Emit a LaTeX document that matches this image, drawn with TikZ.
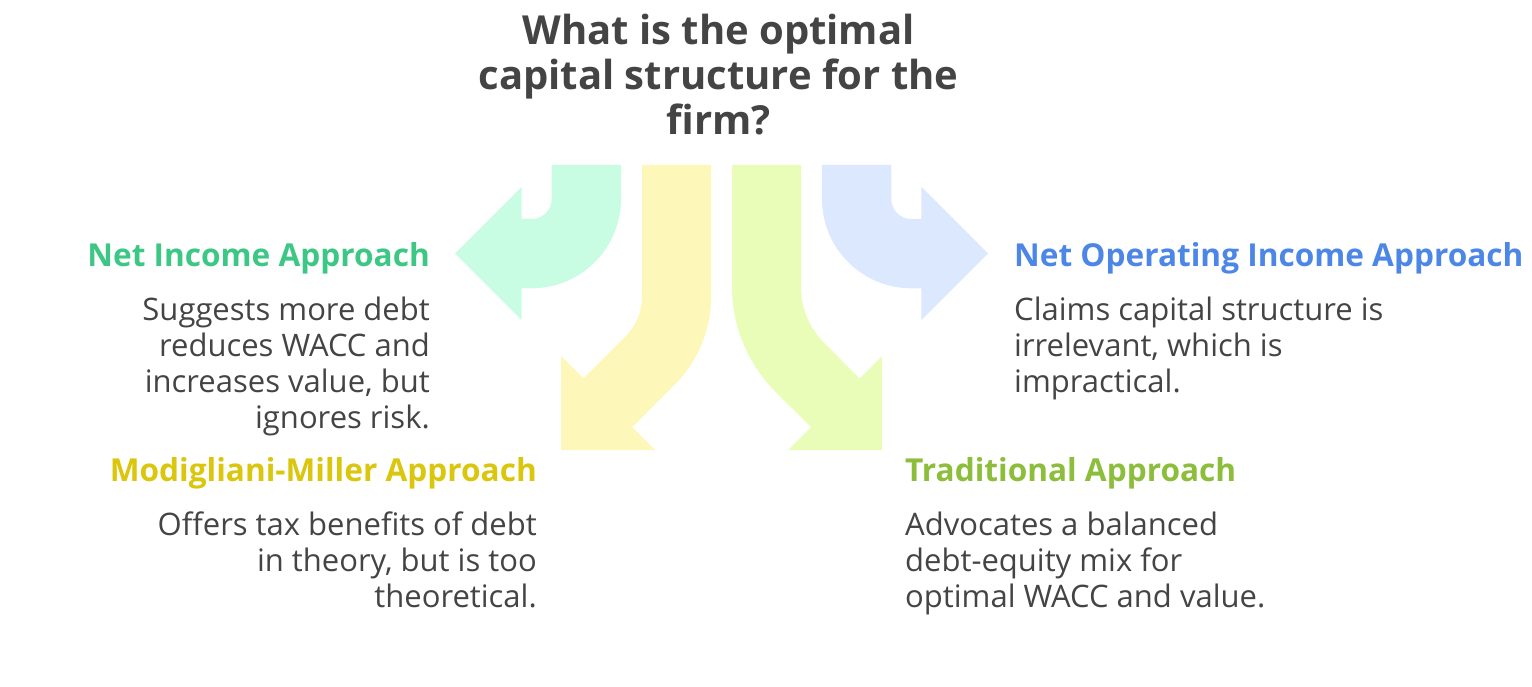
\documentclass[tikz,border=0pt]{standalone}
\usepackage{fontspec}
\setmainfont{Open Sans}
\usetikzlibrary{positioning}

\definecolor{niFill}{HTML}{C8FCE3}
\definecolor{mmFill}{HTML}{FEF7BA}
\definecolor{trFill}{HTML}{EAFDB8}
\definecolor{noiFill}{HTML}{DCE8FD}
\definecolor{niText}{HTML}{3CC884}
\definecolor{mmText}{HTML}{DAC60D}
\definecolor{trText}{HTML}{8CBD3B}
\definecolor{noiText}{HTML}{4C86E6}
\definecolor{txtGray}{HTML}{444444}

\tikzset{
	title/.style={font=\fontsize{40}{45}\selectfont\bfseries, text=txtGray, align=center, inner sep=0pt},
	head/.style={font=\fontsize{31.6}{36}\selectfont\bfseries, inner sep=0pt},
	body/.style={font=\fontsize{31}{36}\selectfont, text=txtGray, inner sep=0pt},
}

\begin{document}
\begin{tikzpicture}[x=1pt,y=-1pt]
	\useasboundingbox (0,0) rectangle (1532,687);
	% arrows
	\fill[niFill] (551.7,165) -- (551.7,199) arc[start angle=0,end angle=90,radius=20] -- (521.7,219) -- (521.7,186.8) -- (455,253.5) -- (521.7,320.2) -- (521.7,288.3) -- (531.7,288.3) arc[start angle=90,end angle=0,radius=89.3] -- (621,165) -- cycle;
	\fill[mmFill] (642,165) -- (642,297) arc[start angle=0,end angle=45,radius=55] -- (583.4,378.4) -- (561,356) -- (561,450) -- (655,450) -- (632.2,427.2) -- (674.7,384.7) arc[start angle=45,end angle=0,radius=124] -- (711,165) -- cycle;
	\fill[trFill] (801,165) -- (801,287) arc[start angle=180,end angle=135,radius=79] -- (859.6,378.4) -- (882,356) -- (882,450) -- (788,450) -- (810.9,427.1) -- (775.4,391.7) arc[start angle=135,end angle=180,radius=148] -- (732,165) -- cycle;
	\fill[noiFill] (891.3,165) -- (891.3,199) arc[start angle=180,end angle=90,radius=20] -- (921.3,219) -- (921.3,186.8) -- (988,253.5) -- (921.3,320.2) -- (921.3,288.3) -- (911.3,288.3) arc[start angle=90,end angle=180,radius=89.3] -- (822,165) -- cycle;
	% question
	\node[title, anchor=north] (q) at (718.5,13.5) {What is the optimal\\capital structure for the\\firm?};
	% left side
	\node[head, text=niText, anchor=base east] (niHead) at (430,266) {Net Income Approach};
	\node[body, align=right, anchor=north east] (niBody) at (430,296.5) {Suggests more debt\\reduces WACC and\\increases value, but\\ignores risk.};
	\node[head, text=mmText, anchor=base east] (mmHead) at (537,481) {Modigliani-Miller Approach};
	\node[body, align=right, anchor=north east] (mmBody) at (537,511.5) {Offers tax benefits of debt\\in theory, but is too\\theoretical.};
	% right side
	\node[head, text=noiText, anchor=base west] (noiHead) at (1014,266) {Net Operating Income Approach};
	\node[body, align=left, anchor=north west] (noiBody) at (1014,296.5) {Claims capital structure is\\irrelevant, which is\\impractical.};
	\node[head, text=trText, anchor=base west] (trHead) at (905,481) {Traditional Approach};
	\node[body, align=left, anchor=north west] (trBody) at (905,511.5) {Advocates a balanced\\debt-equity mix for\\optimal WACC and value.};
\end{tikzpicture}
\end{document}
